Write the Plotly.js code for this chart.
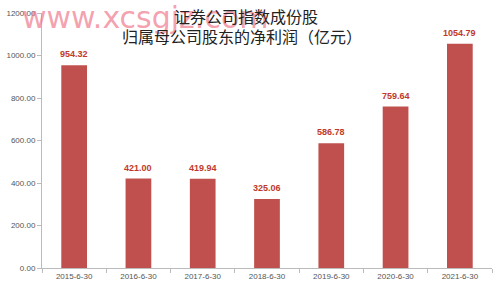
<!DOCTYPE html>
<html><head><meta charset="utf-8">
<script src="https://cdn.plot.ly/plotly-3.0.1.min.js"></script>
<style>html,body{margin:0;padding:0;background:#fff}</style>
</head><body>
<div id="chart" style="width:498px;height:285px"></div>
<script>
const categories = ["2015-6-30","2016-6-30","2017-6-30","2018-6-30","2019-6-30","2020-6-30","2021-6-30"];
const values = [954.32, 421.00, 419.94, 325.06, 586.78, 759.64, 1054.79];
const valueLabels = ["954.32","421.00","419.94","325.06","586.78","759.64","1054.79"];
const yTicks = [0, 200, 400, 600, 800, 1000, 1200];

const trace = {
  type: "bar", x: categories, y: values,
  marker: {color: "#c0504d"},
  hoverinfo: "none"
};
const labelAnns = categories.map((c, i) => ({
  x: c, y: values[i], xref: "x", yref: "y", text: valueLabels[i],
  showarrow: false, yanchor: "bottom", yshift: 4,
  font: {family: "Liberation Sans, Arial, sans-serif", size: 9, color: "#c0392b", weight: "bold"}
}));
const layout = {
  width: 498, height: 285,
  margin: {l: 42, r: 6, t: 13, b: 17},
  paper_bgcolor: "#fff", plot_bgcolor: "#fff",
  bargap: 0.6, showlegend: false,
  font: {family: "Liberation Sans, Arial, sans-serif", color: "#555"},
  xaxis: {
    type: "category", showline: true, linecolor: "#bbb", linewidth: 1,
    ticks: "outside", tickson: "boundaries", ticklen: 4, tickcolor: "#bbb",
    tickfont: {size: 8, color: "#555"}, showgrid: false, fixedrange: true
  },
  yaxis: {
    range: [0, 1200], tickvals: yTicks, tickformat: ".2f",
    showline: true, linecolor: "#bbb", linewidth: 1,
    ticks: "outside", ticklen: 4, tickcolor: "#bbb",
    tickfont: {size: 8, color: "#555"}, showgrid: false, zeroline: false, fixedrange: true
  },
  annotations: [
    {text: "www.xcsgjz.com", xref: "paper", yref: "paper", x: -0.05, y: 1.06, xanchor: "left", yanchor: "top",
     showarrow: false, font: {family: "DejaVu Sans, sans-serif", size: 30, color: "rgba(240,120,140,0.7)"}},
    {text: "证券公司指数成份股", xref: "paper", yref: "paper", x: 0.453, y: 0.988, xanchor: "center", yanchor: "middle",
     showarrow: false, font: {family: "Noto Sans CJK SC, sans-serif", size: 16, color: "#222"}},
    {text: "归属母公司股东的净利润（亿元）", xref: "paper", yref: "paper", x: 0.444, y: 0.91, xanchor: "center", yanchor: "middle",
     showarrow: false, font: {family: "Noto Sans CJK SC, sans-serif", size: 16, color: "#222"}}
  ].concat(labelAnns)
};
Plotly.newPlot("chart", [trace], layout, {staticPlot: true, displayModeBar: false});
</script>
</body></html>
